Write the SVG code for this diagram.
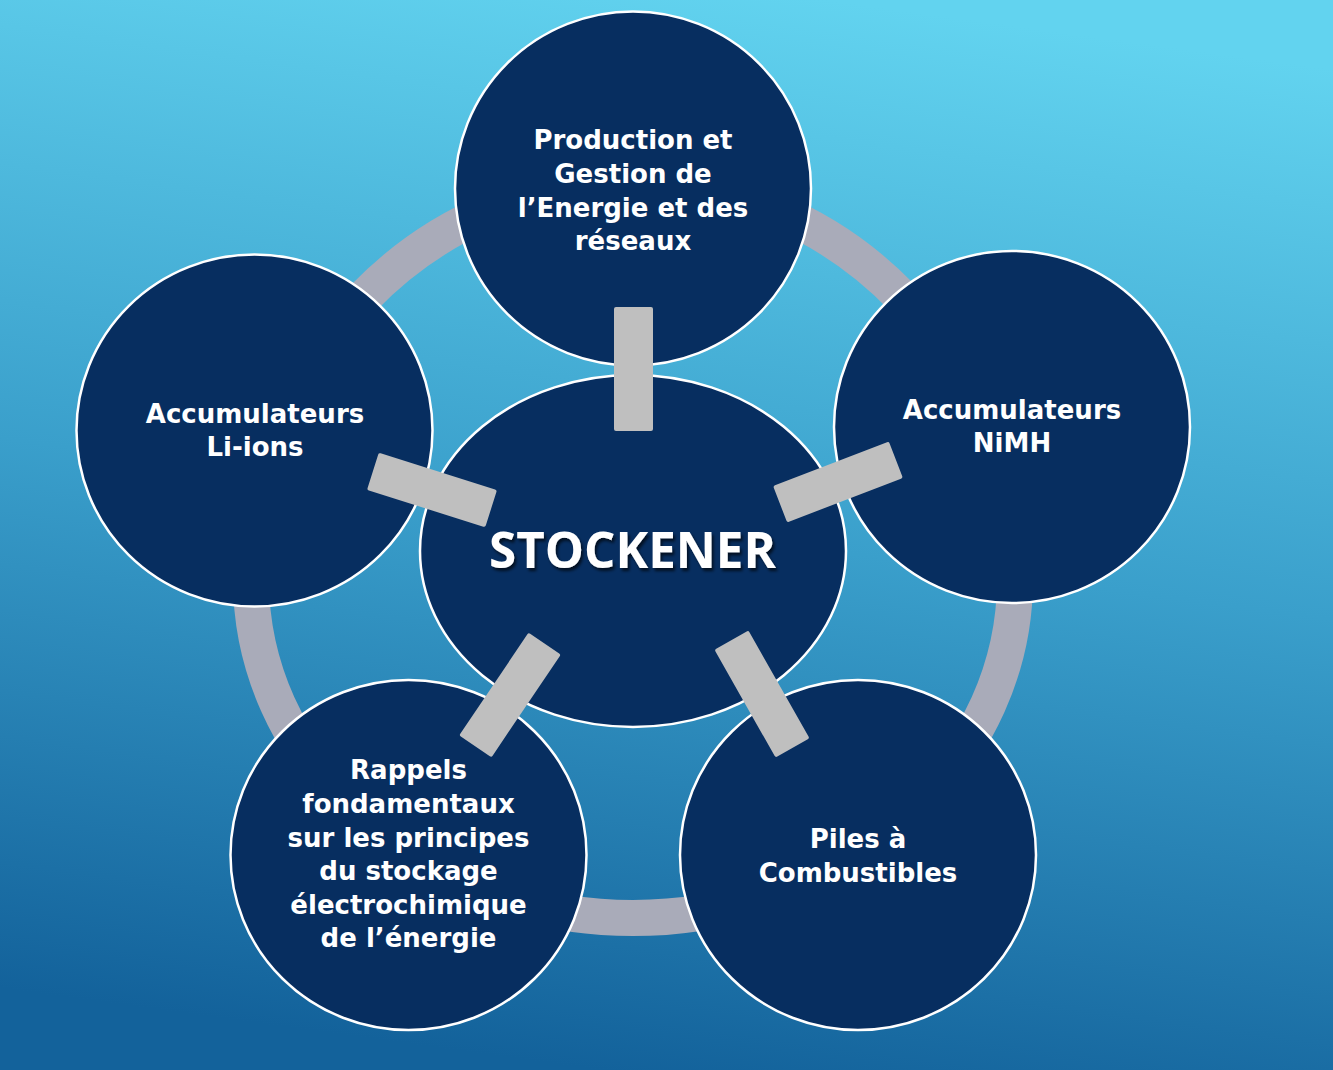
<svg xmlns="http://www.w3.org/2000/svg" width="1333" height="1070" viewBox="0 0 1333 1070">
  <defs>
    <linearGradient id="bg" x1="0.62" y1="0" x2="0.45" y2="1">
      <stop offset="0" stop-color="#62d3ef"/>
      <stop offset="0.5" stop-color="#3a9fcb"/>
      <stop offset="1" stop-color="#13629b"/>
    </linearGradient>
    <filter id="shadow" x="-10%" y="-30%" width="120%" height="160%">
      <feDropShadow dx="2" dy="3" stdDeviation="1.5" flood-color="#000" flood-opacity="0.65"/>
    </filter>
    <style>
      .node { fill: #072e60; stroke: #ffffff; stroke-width: 2.5; }
      .lbl { font-family: "DejaVu Sans", "Liberation Sans", sans-serif; font-weight: bold; font-size: 26px; fill: #ffffff; text-anchor: middle; }
      .title { font-family: "Open Sans", "DejaVu Sans", sans-serif; font-weight: bold; font-size: 50px; fill: #ffffff; text-anchor: middle; }
      .bar { fill: #bfbfbf; }
      .ring { fill: none; stroke: #a9abb9; stroke-width: 36; }
    </style>
  </defs>

  <rect x="0" y="0" width="1333" height="1070" fill="url(#bg)"/>

  <g id="ring">
    <path class="ring" d="M 251,580 A 382 398 0 0 1 1015,580 A 382 338 0 0 1 251,580 Z"/>
  </g>

  <g id="node-production">
    <ellipse class="node" cx="633" cy="188.5" rx="178" ry="177"/>
    <text class="lbl" x="633" y="149">Production et</text>
    <text class="lbl" x="633" y="183">Gestion de</text>
    <text class="lbl" x="633" y="217">l’Energie et des</text>
    <text class="lbl" x="633" y="250">réseaux</text>
  </g>

  <g id="node-nimh">
    <ellipse class="node" cx="1012" cy="427" rx="178" ry="176"/>
    <text class="lbl" x="1012" y="419">Accumulateurs</text>
    <text class="lbl" x="1012" y="452">NiMH</text>
  </g>

  <g id="node-liions">
    <ellipse class="node" cx="254.5" cy="430.5" rx="178" ry="176"/>
    <text class="lbl" x="255" y="423">Accumulateurs</text>
    <text class="lbl" x="255" y="456">Li-ions</text>
  </g>

  <g id="node-rappels">
    <ellipse class="node" cx="408.5" cy="855" rx="178" ry="175"/>
    <text class="lbl" x="408.5" y="779">Rappels</text>
    <text class="lbl" x="408.5" y="813">fondamentaux</text>
    <text class="lbl" x="408.5" y="847">sur les principes</text>
    <text class="lbl" x="408.5" y="880">du stockage</text>
    <text class="lbl" x="408.5" y="914">électrochimique</text>
    <text class="lbl" x="408.5" y="947">de l’énergie</text>
  </g>

  <g id="node-piles">
    <ellipse class="node" cx="858" cy="855" rx="178" ry="175"/>
    <text class="lbl" x="858" y="848">Piles à</text>
    <text class="lbl" x="858" y="882">Combustibles</text>
  </g>

  <g id="node-stockener">
    <ellipse class="node" cx="633" cy="551" rx="213" ry="176"/>
    <text class="title" x="632.5" y="568" textLength="287" lengthAdjust="spacingAndGlyphs" filter="url(#shadow)">STOCKENER</text>
  </g>

  <g id="connectors">
    <rect class="bar" x="-62" y="-19.5" width="124" height="39" rx="2" transform="translate(633.5,369) rotate(90)"/>
    <rect class="bar" x="-62" y="-19.5" width="124" height="39" rx="2" transform="translate(432,490) rotate(17.5)"/>
    <rect class="bar" x="-62" y="-19.5" width="124" height="39" rx="2" transform="translate(838,482) rotate(-21)"/>
    <rect class="bar" x="-62" y="-19.5" width="124" height="39" rx="2" transform="translate(510,695) rotate(-56)"/>
    <rect class="bar" x="-62" y="-19.5" width="124" height="39" rx="2" transform="translate(762,694) rotate(60.5)"/>
  </g>
</svg>
